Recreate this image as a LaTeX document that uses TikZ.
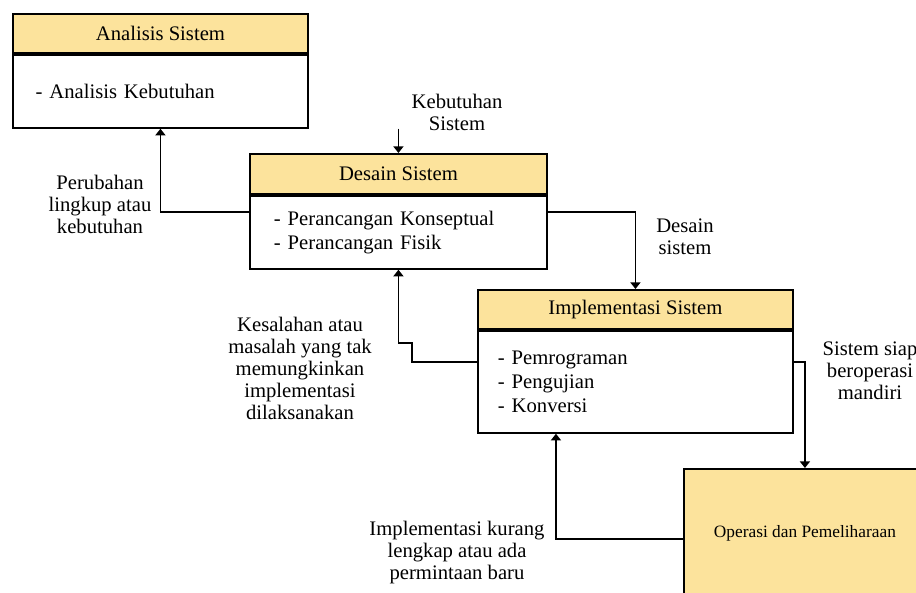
\documentclass[tikz,border=0pt]{standalone}
\usepackage{fontspec}
\setmainfont{Liberation Serif}
\usetikzlibrary{arrows.meta}
\usetikzlibrary{positioning}

\definecolor{headfill}{RGB}{252,227,156}

\tikzset{
  head/.style={draw=black, line width=1.4pt, fill=headfill, anchor=north west, inner sep=0pt, font=\fontsize{15.5}{18}\selectfont},
  body/.style={draw=black, line width=1.4pt, fill=white, inner xsep=17pt, inner ysep=0pt, align=left, font=\fontsize{15.5}{18}\selectfont},
  opsbox/.style={draw=black, line width=1.4pt, fill=headfill, anchor=north west, inner sep=0pt, font=\fontsize{13}{15}\selectfont},
  lbl/.style={align=center, font=\fontsize{15.5}{16.5}\selectfont},
  arr/.style={line width=1.3pt, -{Triangle[length=5pt,width=7.5pt]}}
}

\begin{document}
\begin{tikzpicture}[x=0.75pt, y=-0.75pt]
  \useasboundingbox (0,0) rectangle (916,592);
  \clip (0,0) rectangle (916,592);

  % boxes
  \node [head, minimum width=221.25pt, minimum height=29.25pt] (anaH) at (12,13) {Analisis Sistem};
  \node [body, below=0pt of anaH, text width=187.25pt, minimum height=54.75pt] (ana) {- Analisis Kebutuhan};

  \node [head, minimum width=222.75pt, minimum height=30pt] (desH) at (249,153) {Desain Sistem};
  \node [body, below=0pt of desH, inner xsep=18pt, text width=186.75pt, minimum height=54.75pt] (des) {- Perancangan Konseptual\\- Perancangan Fisik};

  \node [head, minimum width=236.25pt, minimum height=29.25pt] (impH) at (477,289) {Implementasi Sistem};
  \node [body, below=0pt of impH, inner xsep=15pt, text width=206.25pt, minimum height=76.5pt] (imp) {- Pemrograman\\- Pengujian\\- Konversi};

  \node [opsbox, minimum width=181.5pt, minimum height=96pt] (ops) at (683,468) {Operasi dan Pemeliharaan};

  % connectors
  \draw [arr] (ana.south -| desH.north) -- (desH.north);
  \draw [arr] ([yshift=15pt]des.west) -| (ana.south);
  \draw [arr] ([yshift=15pt]des.east) -| (impH.north);
  \draw [arr] ([yshift=15pt]imp.west) -- ++(-65,0) -- ++(0,-19) -| (des.south);
  \draw [arr] ([yshift=15pt]imp.east) -| (ops.north);
  \draw [arr] ([yshift=-4.5pt]ops.west) -| ([xshift=-59.6pt]imp.south);

  % labels
  \node [lbl] (kebLbl) at (457,112) {Kebutuhan\\Sistem};
  \node [lbl] (perLbl) at (100,204) {Perubahan\\lingkup atau\\kebutuhan};
  \node [lbl] (desLbl) at (685,237) {Desain\\sistem};
  \node [lbl] (kesLbl) at (300,368) {Kesalahan atau\\masalah yang tak\\memungkinkan\\implementasi\\dilaksanakan};
  \node [lbl] (siapLbl) at (870,371) {Sistem siap\\beroperasi\\mandiri};
  \node [lbl] (kurLbl) at (457,553) {Implementasi kurang\\lengkap atau ada\\permintaan baru};
\end{tikzpicture}
\end{document}
